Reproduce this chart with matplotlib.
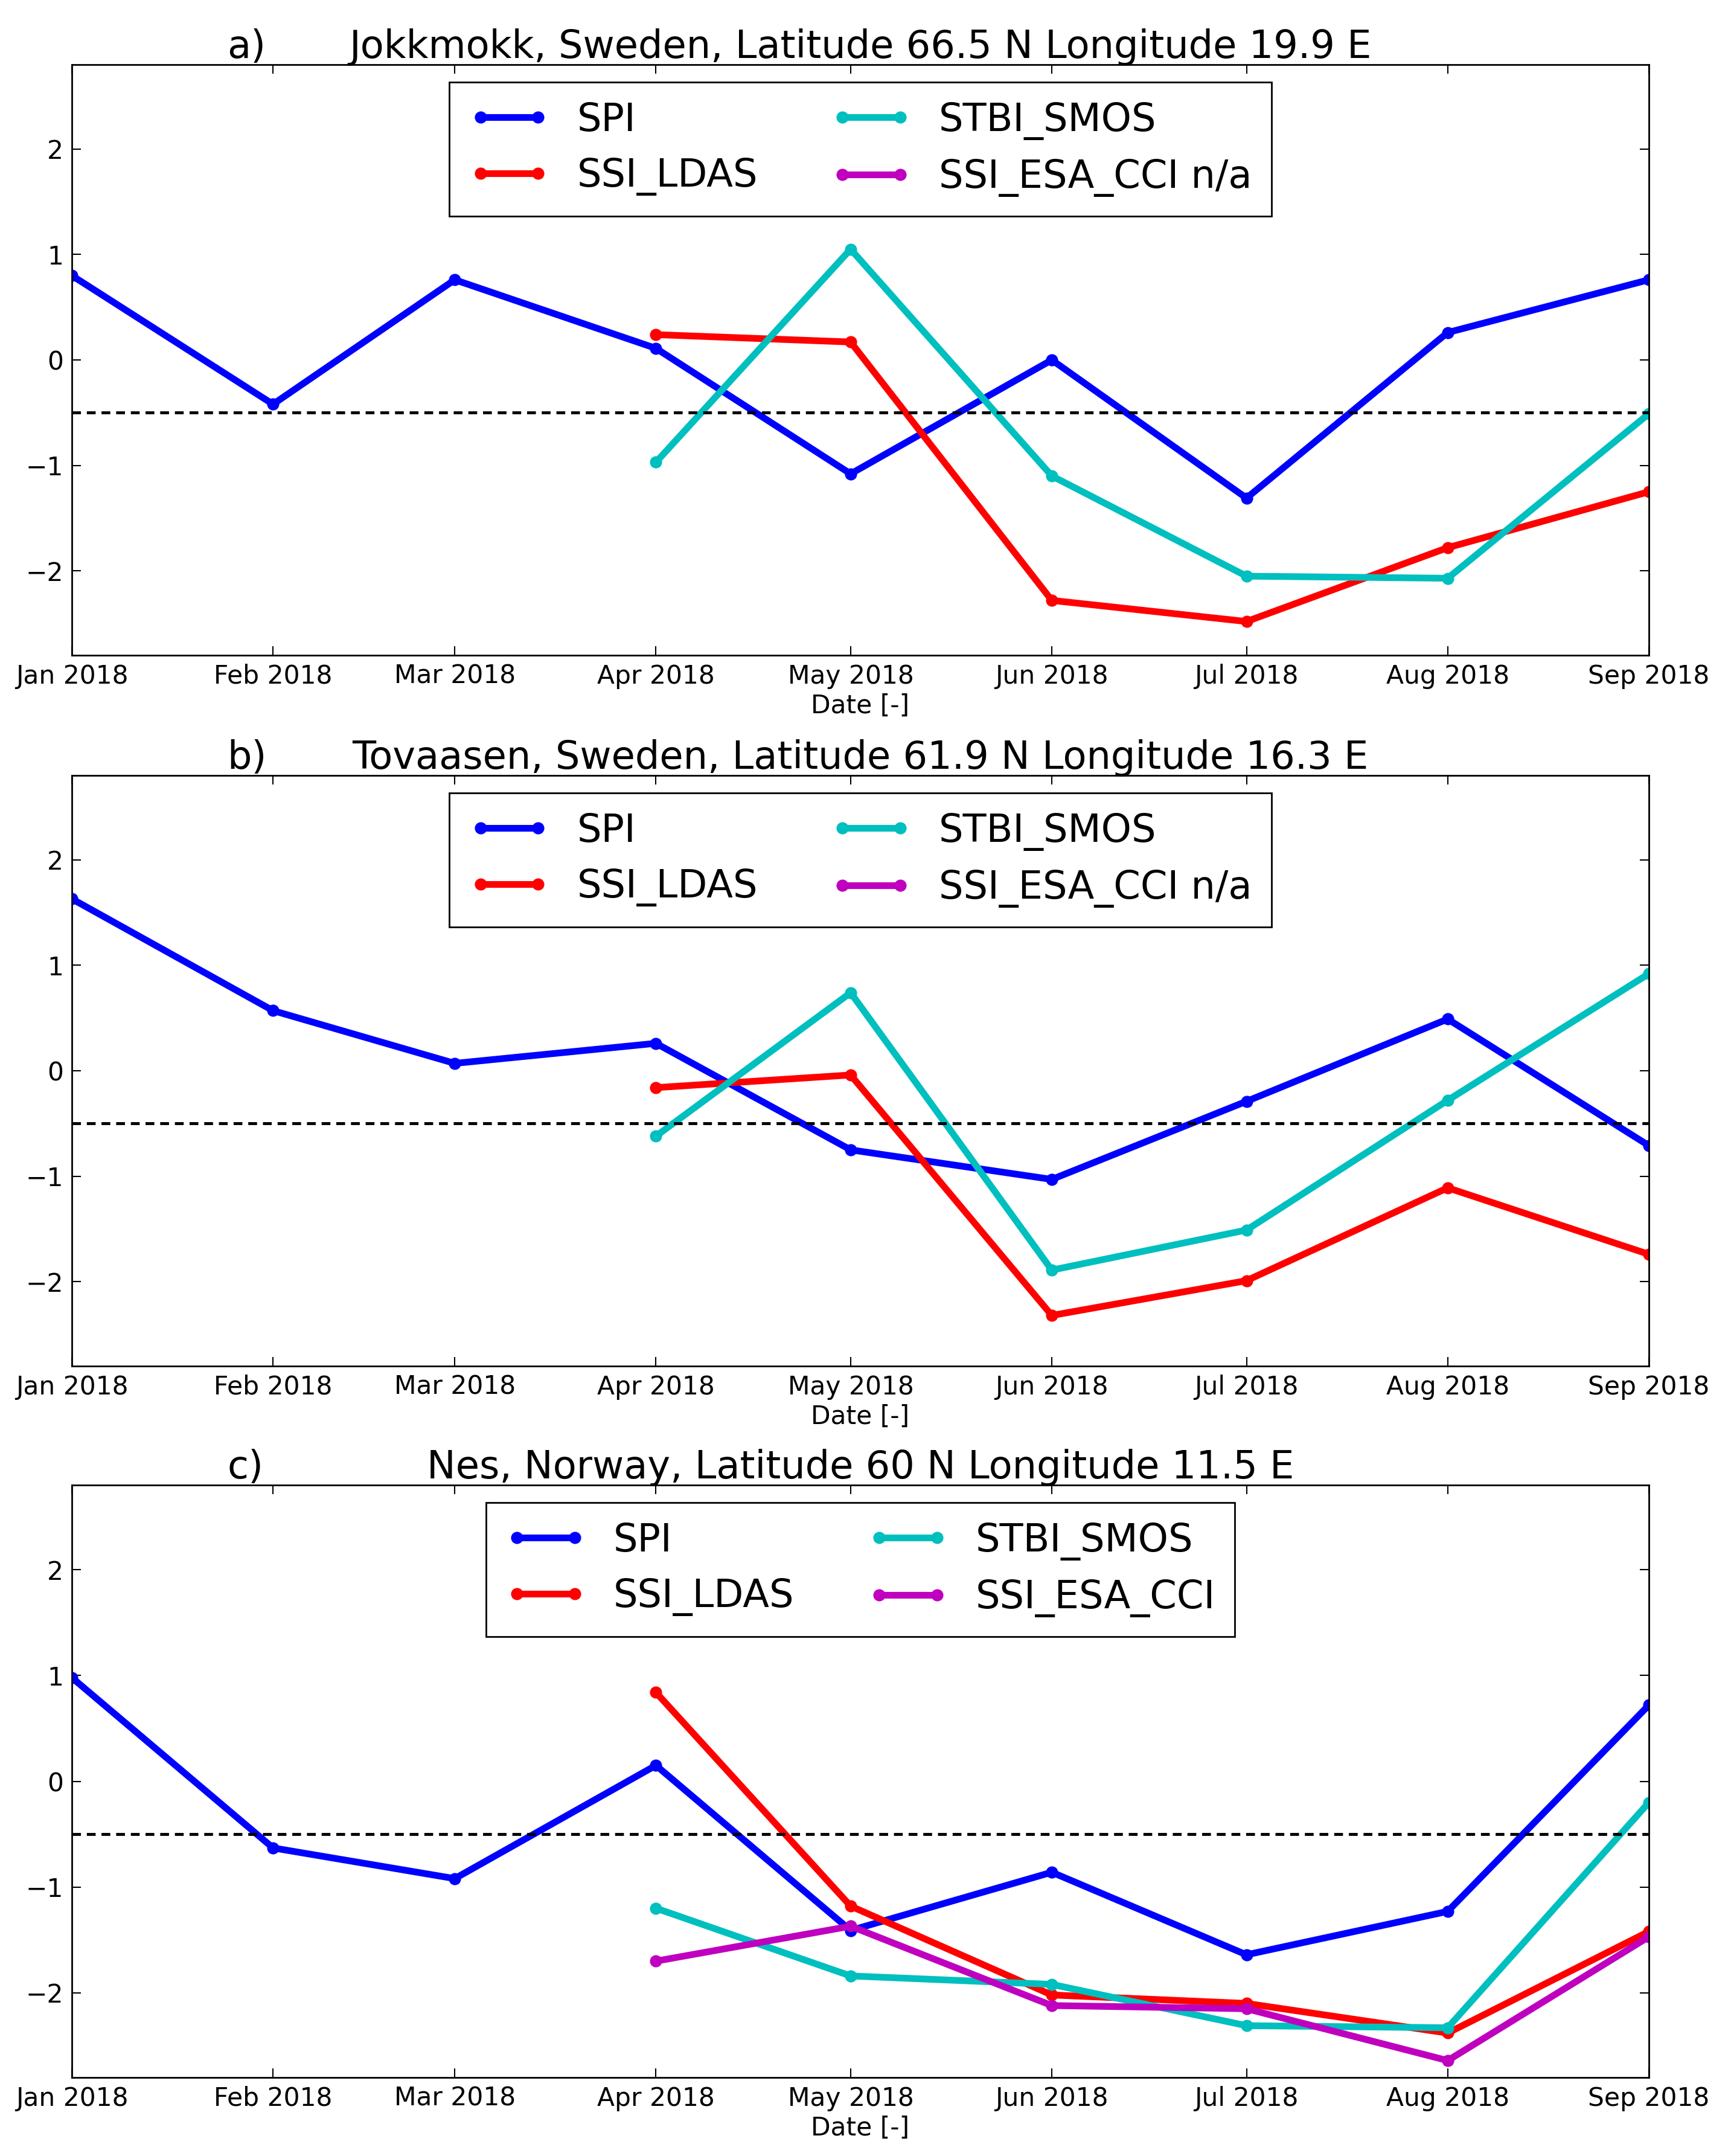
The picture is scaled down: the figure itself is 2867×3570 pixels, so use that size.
import datetime as dt
import matplotlib
matplotlib.use("Agg")
import matplotlib.pyplot as plt
import matplotlib.dates as mdates
from matplotlib.transforms import offset_copy

# ---------------- data ----------------
months = [dt.date(2018, m, 1) for m in range(1, 10)]
months_ssi = months[3:]  # Apr .. Sep

panel_letters = ["a)", "b)", "c)"]
panel_titles = [
    "Jokkmokk, Sweden, Latitude 66.5 N Longitude 19.9 E",
    "Tovaasen, Sweden, Latitude 61.9 N Longitude 16.3 E",
    "Nes, Norway, Latitude 60 N Longitude 11.5 E",
]
esa_labels = ["SSI_ESA_CCI n/a", "SSI_ESA_CCI n/a", "SSI_ESA_CCI"]

spi_a = [0.80, -0.42, 0.76, 0.11, -1.08, 0.00, -1.31, 0.26, 0.76]
ldas_a = [0.24, 0.17, -2.28, -2.48, -1.78, -1.25]
smos_a = [-0.97, 1.05, -1.10, -2.05, -2.07, -0.51]
esa_a = []

spi_b = [1.63, 0.57, 0.07, 0.26, -0.75, -1.03, -0.29, 0.49, -0.71]
ldas_b = [-0.16, -0.04, -2.32, -1.99, -1.11, -1.74]
smos_b = [-0.62, 0.74, -1.89, -1.51, -0.28, 0.92]
esa_b = []

spi_c = [0.98, -0.63, -0.92, 0.15, -1.41, -0.86, -1.64, -1.23, 0.72]
ldas_c = [0.84, -1.18, -2.02, -2.10, -2.38, -1.42]
smos_c = [-1.20, -1.84, -1.92, -2.31, -2.33, -0.20]
esa_c = [-1.70, -1.37, -2.12, -2.15, -2.64, -1.47]

spi_all = [spi_a, spi_b, spi_c]
ldas_all = [ldas_a, ldas_b, ldas_c]
smos_all = [smos_a, smos_b, smos_c]
esa_all = [esa_a, esa_b, esa_c]

threshold = -0.5
yticks = [-2, -1, 0, 1, 2]

# ---------------- style ----------------
plt.rcParams["font.family"] = ["DejaVu Sans"]
DPI = 100
fig = plt.figure(figsize=(28.67, 35.70), dpi=DPI, facecolor="white")

left, width = 119 / 2867, (2731 - 119) / 2867
tops = [107, 1284, 2459]
bots = [1085, 2262, 3440]

LW = 8
MS = 13.5
TICK_FS = 30.5
BIG_FS = 46

for i in range(3):
    b = 1 - bots[i] / 3570
    h = (bots[i] - tops[i]) / 3570
    ax = fig.add_axes([left, b, width, h])

    ax.plot(months, spi_all[i], color="b", lw=LW, marker="o", ms=MS, mec="b", mew=1, label="SPI")
    ax.plot(months_ssi, ldas_all[i], color="r", lw=LW, marker="o", ms=MS, mec="r", mew=1, label="SSI_LDAS")
    ax.plot(months_ssi, smos_all[i], color="c", lw=LW, marker="o", ms=MS, mec="c", mew=1, label="STBI_SMOS")
    ax.plot(months_ssi[:len(esa_all[i])], esa_all[i], color="m", lw=LW, marker="o", ms=MS,
            mec="m", mew=1, label=esa_labels[i])
    ax.axhline(threshold, color="k", lw=3.5, ls=(0, (3, 2)))

    ax.set_xlim(months[0], months[-1])
    ax.set_ylim(-2.8, 2.8)
    ax.set_yticks(yticks)
    ax.xaxis.set_major_locator(mdates.MonthLocator())
    ax.xaxis.set_major_formatter(mdates.DateFormatter("%b %Y"))
    ax.tick_params(direction="in", top=True, right=True, length=11, width=1.5,
                   labelsize=TICK_FS)
    ax.tick_params(axis="x", pad=10)
    ax.tick_params(axis="y", pad=10)
    for sp in ax.spines.values():
        sp.set_linewidth(2)
    ax.set_xlabel("Date [-]", fontsize=TICK_FS, labelpad=5)

    ax.set_title(panel_titles[i], fontsize=BIG_FS, pad=8)
    trans = offset_copy(ax.transAxes, fig=fig, x=0, y=8, units="points")
    ax.text(0.0984, 1.0, panel_letters[i], transform=trans, fontsize=BIG_FS,
            ha="left", va="baseline")

    leg = ax.legend(loc="upper center", ncol=2, fontsize=BIG_FS, numpoints=2,
                    handlelength=2.1, handletextpad=0.7, columnspacing=1.9,
                    borderpad=0.5, labelspacing=0.48, borderaxespad=0.45,
                    fancybox=False, framealpha=1)
    leg.get_frame().set_edgecolor("k")
    leg.get_frame().set_linewidth(2)

fig.savefig("out.png", dpi=DPI, facecolor="white")
